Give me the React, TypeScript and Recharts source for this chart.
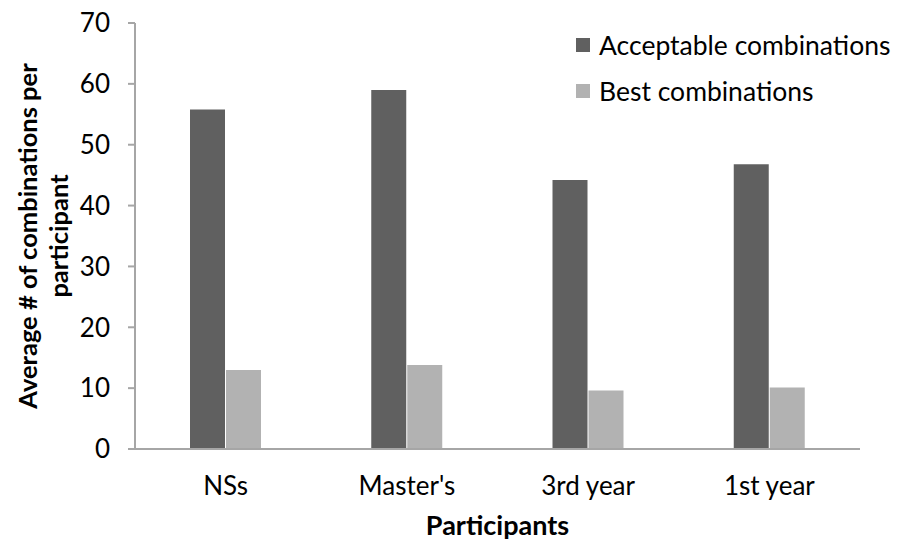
import React from 'react';
import { BarChart, Bar, XAxis, YAxis, Legend } from 'recharts';

const groups = ['NSs', "Master's", '3rd year', '1st year'];
const acceptable = [55.8, 59.0, 44.2, 46.8];
const best = [13.0, 13.8, 9.6, 10.1];
const yTicks = [0, 10, 20, 30, 40, 50, 60, 70];

const data = groups.map((g, i) => ({ group: g, acceptable: acceptable[i], best: best[i] }));

const FONT = 'Lato, "Open Sans", sans-serif';

// legend sits inside the plot's top right corner, like the original
const LegendBox = ({ payload }: any) => (
  <div style={{ fontFamily: FONT, fontSize: 26.5, color: '#000', whiteSpace: 'nowrap', width: 330 }}>
    {(payload || []).map((entry: any, i: number) => (
      <div key={i} style={{ display: 'flex', alignItems: 'center', height: 46 }}>
        <div style={{ width: 14, height: 14, background: entry.color, marginRight: 9 }} />
        <span>{entry.value}</span>
      </div>
    ))}
  </div>
);

const YTitle = ({ viewBox }: any) => {
  const cy = viewBox.y + viewBox.height / 2;
  return (
    <text
      transform={`translate(37, ${cy}) rotate(-90)`}
      textAnchor="middle"
      fontFamily={FONT}
      fontSize={25.5}
      fontWeight="bold"
      fill="#000"
    >
      <tspan x={0} dy={0}>Average # of combinations per</tspan>
      <tspan x={0} dy={31}>participant</tspan>
    </text>
  );
};

export default function App() {
  return (
    <div style={{ position: 'absolute', left: 0, top: 0, width: 902, height: 542, background: '#fff' }}>
      <BarChart
        width={902}
        height={542}
        data={data}
        margin={{ top: 23, right: 42, bottom: 63, left: 0 }}
        barGap={1}
        barCategoryGap="30%"
      >
        <XAxis
          dataKey="group"
          height={30}
          axisLine={{ stroke: '#a6a6a6', strokeWidth: 2 }}
          tickLine={false}
          tick={{ fill: '#000', fontSize: 26, fontFamily: FONT }}
          tickMargin={22}
          label={{ value: 'Participants', position: 'insideBottom', offset: -56, fill: '#000', fontSize: 27, fontWeight: 'bold', fontFamily: FONT }}
        />
        <YAxis
          domain={[0, 70]}
          ticks={yTicks}
          interval={0}
          width={135}
          axisLine={{ stroke: '#a6a6a6', strokeWidth: 2 }}
          tickLine={{ stroke: '#a6a6a6', strokeWidth: 2 }}
          tickSize={7}
          tickMargin={18}
          tick={{ fill: '#000', fontSize: 26, fontFamily: FONT }}
          label={<YTitle />}
        />
        <Legend
          layout="vertical"
          verticalAlign="top"
          align="right"
          content={<LegendBox />}
          wrapperStyle={{ position: 'absolute', left: 576, top: 22, width: 0, height: 0, overflow: 'visible' }}
        />
        <Bar dataKey="acceptable" name="Acceptable combinations" fill="#606060" barSize={35} isAnimationActive={false} />
        <Bar dataKey="best" name="Best combinations" fill="#b2b2b2" barSize={35} isAnimationActive={false} />
      </BarChart>
    </div>
  );
}
